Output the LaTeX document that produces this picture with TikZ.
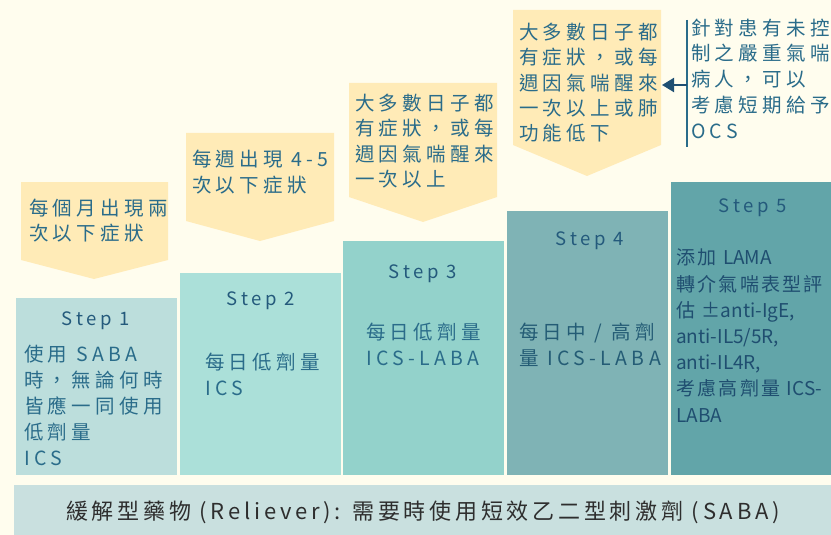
\documentclass[tikz,border=0pt]{standalone}
\usepackage{fontspec}
\setmainfont{Noto Sans CJK TC}
\newfontfamily\spfont[LetterSpace=22]{Noto Sans CJK TC}
\newfontfamily\ttfnt[LetterSpace=20]{Noto Sans CJK TC}
\newfontfamily\sqfont[LetterSpace=12]{Noto Sans CJK TC}
\newfontfamily\plainfont{Noto Sans CJK TC}
\newfontfamily\barfont[LetterSpace=17]{Noto Sans CJK TC}
\usetikzlibrary{arrows.meta}
\definecolor{bg}{HTML}{FFFDEE}
\definecolor{sA}{HTML}{BCDEDC}
\definecolor{sB}{HTML}{ABE0D9}
\definecolor{sC}{HTML}{93D2CB}
\definecolor{sD}{HTML}{7FB3B5}
\definecolor{sE}{HTML}{62A5A9}
\definecolor{barc}{HTML}{C9E0DF}
\definecolor{yel}{HTML}{FFEBB7}
\definecolor{txt}{HTML}{2A6C8A}
\definecolor{ttl}{HTML}{245A7C}
\definecolor{dk}{HTML}{1F4E70}
\definecolor{navy}{HTML}{1F4F73}
\tikzset{
  stepbox/.style={inner sep=0pt, outer sep=0pt},
  ttlstyle/.style={font=\ttfnt\fontsize{18.5}{22}\selectfont, text=ttl, inner sep=0pt, anchor=base},
  bodystyle/.style={font=\spfont\fontsize{19.5}{26}\selectfont, text=txt, align=left, inner sep=0pt, anchor=base west},
  arrtext/.style={font=\spfont\fontsize{19.5}{25.5}\selectfont, text=txt, align=left, inner sep=0pt, anchor=base west},
  yelarrow/.style={fill=yel, draw=none}
}
\begin{document}
\begin{tikzpicture}[x=1pt,y=-1pt]
\fill[bg] (0,0) rectangle (831,535);
\useasboundingbox (0,0) rectangle (831,535);
% step boxes
\fill[sA] (16,298) rectangle (177,475);
\fill[sB] (180,273) rectangle (341,475);
\fill[sC] (343,241) rectangle (504,475);
\fill[sD] (507,211) rectangle (668,475);
\fill[sE] (671,182) rectangle (831,475);
\node[stepbox, minimum width=161pt, minimum height=177pt] (s1) at (96.5,386.5) {};
\node[stepbox, minimum width=161pt, minimum height=202pt] (s2) at (260.5,374) {};
\node[stepbox, minimum width=161pt, minimum height=234pt] (s3) at (423.5,358) {};
\node[stepbox, minimum width=161pt, minimum height=264pt] (s4) at (587.5,343) {};
\node[stepbox, minimum width=160pt, minimum height=293pt] (s5) at (751,328.5) {};
% bottom bar
\fill[barc] (14,485) rectangle (831,535);
\node[font=\barfont\fontsize{22}{26}\selectfont, text=black!82, inner sep=0pt, anchor=base] (bar) at (423,519.5) {緩解型藥物 (Reliever): 需要時使用短效乙二型刺激劑 (SABA)};
% yellow arrows
\fill[yelarrow] (21,182) -- (168,182) -- (168,260) -- (94,279) -- (21,260) -- cycle;
\fill[yelarrow] (186,133) -- (334,133) -- (334,221) -- (260,241) -- (186,221) -- cycle;
\fill[yelarrow] (349,83) -- (497,83) -- (497,197) -- (423,222) -- (349,197) -- cycle;
\fill[yelarrow] (513,10) -- (661,10) -- (661,145) -- (587,176) -- (513,145) -- cycle;
% texts: anchor is baseline of LAST line
\node[arrtext] (a1) at (29,240.5) {每個月出現兩\\次以下症狀};
\node[arrtext] (a2) at (192,192.5) {每週出現 4-5\\次以下症狀};
\node[arrtext] (a3) at (355,186.5) {大多數日子都\\有症狀，或每\\週因氣喘醒來\\一次以上};
\node[arrtext] (a4) at (519,141) {大多數日子都\\有症狀，或每\\週因氣喘醒來\\一次以上或肺\\功能低下};
\coordinate (a4e) at (662,85);
% callout
\coordinate (ct) at (687,20);
\coordinate (cb) at (687,147);
\coordinate (cm) at (687,85);
\draw[txt, line width=1.3pt] (ct) -- (cb);
\draw[navy, line width=2pt, -{Triangle[length=12pt,width=14pt]}] (cm) -- (a4e);
\node[arrtext, font=\spfont\fontsize{19.5}{26}\selectfont] (c1) at (691,139) {針對患有未控\\制之嚴重氣喘\\病人，可以\\考慮短期給予\\OCS};
% titles
\node[ttlstyle] (t1) at (96,325) {Step 1};
\node[ttlstyle] (t2) at (261,305) {Step 2};
\node[ttlstyle] (t3) at (423,278) {Step 3};
\node[ttlstyle] (t4) at (590,245) {Step 4};
\node[ttlstyle] (t5) at (753,212) {Step 5};
% bodies
\node[bodystyle] (b1) at (24,465) {使用 SABA\\時，無論何時\\皆應一同使用\\低劑量\\ICS};
\node[bodystyle] (b2) at (205,395) {每日低劑量\\ICS};
\node[bodystyle] (b3) at (366,365) {每日低劑量\\ICS-LABA};
\node[bodystyle, text=txt!85!black] (b4) at (519,365) {每日中 / 高劑\\量 ICS-LABA};
\node[anchor=base west, inner sep=0pt, align=left, font=\sqfont\fontsize{19}{26.2}\selectfont, text=dk] (b5) at (676,422) {添加 {\plainfont LAMA}\\轉介氣喘表型評\\估 {\plainfont ±anti-IgE,}\\{\plainfont anti-IL5/5R,}\\{\plainfont anti-IL4R,}\\考慮高劑量 {\plainfont ICS-}\\{\plainfont LABA}};
\end{tikzpicture}
\end{document}
